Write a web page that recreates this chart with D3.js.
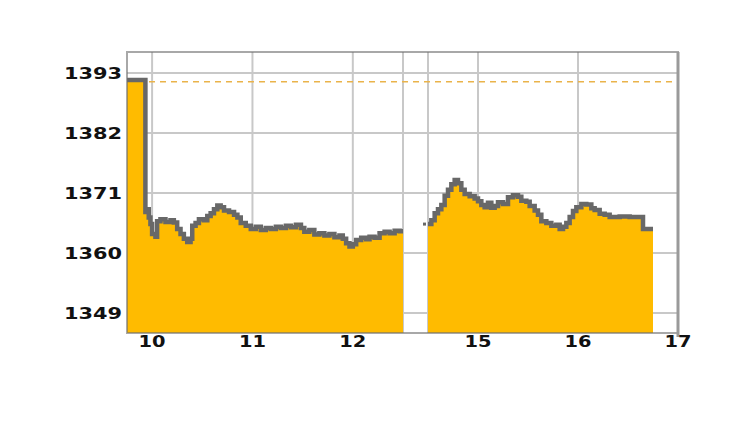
<!DOCTYPE html>
<html>
<head>
<meta charset="utf-8">
<script src="https://cdn.jsdelivr.net/npm/d3@7"></script>
<style>
  body { margin: 0; background: #fff; }
  text { font-family: "DejaVu Sans", Verdana, sans-serif; font-weight: bold; font-size: 15px; fill: #111; }
</style>
</head>
<body>
<div id="container"></div>
<script>
// morning session 09:45 - 12:30
const amTimes = ["09:45","09:56","09:57","09:58","09:59","10:00","10:02","10:03","10:05","10:08",
  "10:11","10:13","10:15","10:17","10:19","10:21","10:23","10:24","10:26","10:28",
  "10:31","10:33","10:35","10:37","10:39","10:41","10:43","10:46","10:49","10:51",
  "10:53","10:56","10:59","11:02","11:05","11:08","11:11","11:14","11:17","11:20",
  "11:23","11:26","11:29","11:31","11:34","11:37","11:40","11:43","11:46","11:49",
  "11:52","11:54","11:56","11:58","12:00","12:02","12:05","12:08","12:10","12:13",
  "12:16","12:19","12:22","12:25","12:28","12:30"];
const amValues = [1391.7,1367.5,1368.0,1366.5,1365.3,1363.5,1363.0,1365.8,1366.2,1365.7,
  1366.0,1365.6,1364.4,1363.5,1362.6,1362.0,1362.6,1365.0,1365.5,1366.2,
  1366.0,1366.8,1367.3,1368.0,1368.7,1368.4,1367.8,1367.5,1367.0,1366.5,
  1365.5,1365.0,1364.4,1364.8,1364.2,1364.6,1364.4,1364.8,1364.6,1365.0,
  1364.7,1365.2,1364.6,1363.9,1364.2,1363.4,1363.6,1363.2,1363.5,1362.9,
  1363.2,1362.6,1361.8,1361.2,1361.6,1362.4,1362.8,1362.5,1363.0,1362.8,
  1363.6,1363.9,1363.6,1364.1,1364.0,1364.0];

// afternoon session 14:30 - 16:45
const pmTimes = ["14:30","14:32","14:34","14:36","14:38","14:40","14:42","14:44","14:46","14:48",
  "14:50","14:52","14:55","14:58","15:00","15:02","15:04","15:06","15:08","15:10",
  "15:12","15:15","15:18","15:21","15:24","15:26","15:29","15:31","15:34","15:36",
  "15:38","15:41","15:44","15:47","15:49","15:51","15:53","15:55","15:57","15:59",
  "16:02","16:05","16:08","16:10","16:13","16:16","16:19","16:25","16:31","16:35",
  "16:39","16:45"];
const pmValues = [1365.3,1366.0,1367.3,1368.0,1368.8,1370.5,1371.6,1372.6,1373.4,1372.8,
  1371.6,1370.8,1370.4,1370.0,1369.5,1368.8,1368.4,1369.2,1368.3,1368.6,
  1369.3,1369.0,1370.2,1370.6,1370.3,1369.6,1369.4,1368.6,1367.8,1367.0,
  1365.8,1365.5,1365.0,1365.2,1364.4,1364.8,1365.5,1366.6,1367.7,1368.4,
  1369.0,1368.9,1368.2,1367.9,1367.2,1367.0,1366.6,1366.7,1366.6,1366.6,
  1364.4,1364.4];

const prevClose = 1391.4;
const yTicks = [1349, 1360, 1371, 1382, 1393];
const xTickLabels = ["10", "11", "12", "15", "16", "17"];
const xTickTimes = ["10:00", "11:00", "12:00", "15:00", "16:00", "17:00"];
const xGridTimes = ["10:00", "11:00", "12:00", "12:30", "14:30", "15:00", "16:00"];
const sessionBounds = ["09:45", "12:30", "14:30", "17:00"];

const toMin = s => { const [h, m] = s.split(":").map(Number); return h * 60 + m; };

const W = 750, H = 422;
const plot = {left: 127, right: 678, top: 52, bottom: 333};

const svg = d3.select("#container").append("svg")
  .attr("width", W).attr("height", H);

// piecewise time scale, lunch break squeezed to a narrow gap
const x = d3.scaleLinear()
  .domain(sessionBounds.map(toMin))
  .range([plot.left, 403, 428, plot.right]);

const y = d3.scaleLinear()
  .domain([1349, 1393])
  .range([313, 73]);

// grid
svg.append("g").selectAll("line.h")
  .data(yTicks).enter().append("line")
  .attr("x1", plot.left).attr("x2", plot.right)
  .attr("y1", d => y(d)).attr("y2", d => y(d))
  .attr("stroke", "#c8c8c8").attr("stroke-width", 2);

svg.append("g").selectAll("line.v")
  .data(xGridTimes).enter().append("line")
  .attr("x1", d => x(toMin(d))).attr("x2", d => x(toMin(d)))
  .attr("y1", plot.top).attr("y2", plot.bottom)
  .attr("stroke", "#c8c8c8").attr("stroke-width", 2);

// previous close
svg.append("line")
  .attr("x1", plot.left).attr("x2", plot.right)
  .attr("y1", y(prevClose)).attr("y2", y(prevClose))
  .attr("stroke", "#eab34a").attr("stroke-width", 1.5)
  .attr("stroke-dasharray", "6,5");

const sessions = [
  amTimes.map((t, i) => ({t: toMin(t), v: amValues[i]})),
  pmTimes.map((t, i) => ({t: toMin(t), v: pmValues[i]}))
];

const area = d3.area()
  .curve(d3.curveStepAfter)
  .x(d => x(d.t))
  .y0(plot.bottom)
  .y1(d => y(d.v));

const line = d3.line()
  .curve(d3.curveStepAfter)
  .x(d => x(d.t))
  .y(d => y(d.v));

svg.selectAll("path.area")
  .data(sessions).enter().append("path")
  .attr("d", area)
  .attr("fill", "#ffbb00");

svg.selectAll("path.line")
  .data(sessions).enter().append("path")
  .attr("d", line)
  .attr("fill", "none")
  .attr("stroke", "#686868")
  .attr("stroke-width", 4.5);

// stray opening tick just before the afternoon session
svg.append("rect")
  .attr("x", x(toMin(pmTimes[0])) - 5).attr("y", y(pmValues[0]) - 1.5)
  .attr("width", 3).attr("height", 3)
  .attr("fill", "#686868");

// frame
svg.append("rect")
  .attr("x", plot.left).attr("y", plot.top)
  .attr("width", plot.right - plot.left).attr("height", plot.bottom - plot.top)
  .attr("fill", "none").attr("stroke", "#6e6e6e").attr("stroke-opacity", 0.6)
  .attr("stroke-width", 2);
svg.append("line")
  .attr("x1", plot.right).attr("x2", plot.right)
  .attr("y1", plot.top).attr("y2", plot.bottom + 4)
  .attr("stroke", "#9a9a9a").attr("stroke-width", 3);

// axis labels
svg.append("g").selectAll("text")
  .data(yTicks).enter().append("text")
  .attr("x", 122).attr("y", d => y(d) + 6)
  .attr("text-anchor", "end")
  .attr("textLength", 58).attr("lengthAdjust", "spacingAndGlyphs")
  .text(d => d);

svg.append("g").selectAll("text")
  .data(xTickLabels).enter().append("text")
  .attr("x", (d, i) => x(toMin(xTickTimes[i])))
  .attr("y", 347)
  .attr("text-anchor", "middle")
  .attr("textLength", 27).attr("lengthAdjust", "spacingAndGlyphs")
  .text(d => d);
</script>
</body>
</html>
